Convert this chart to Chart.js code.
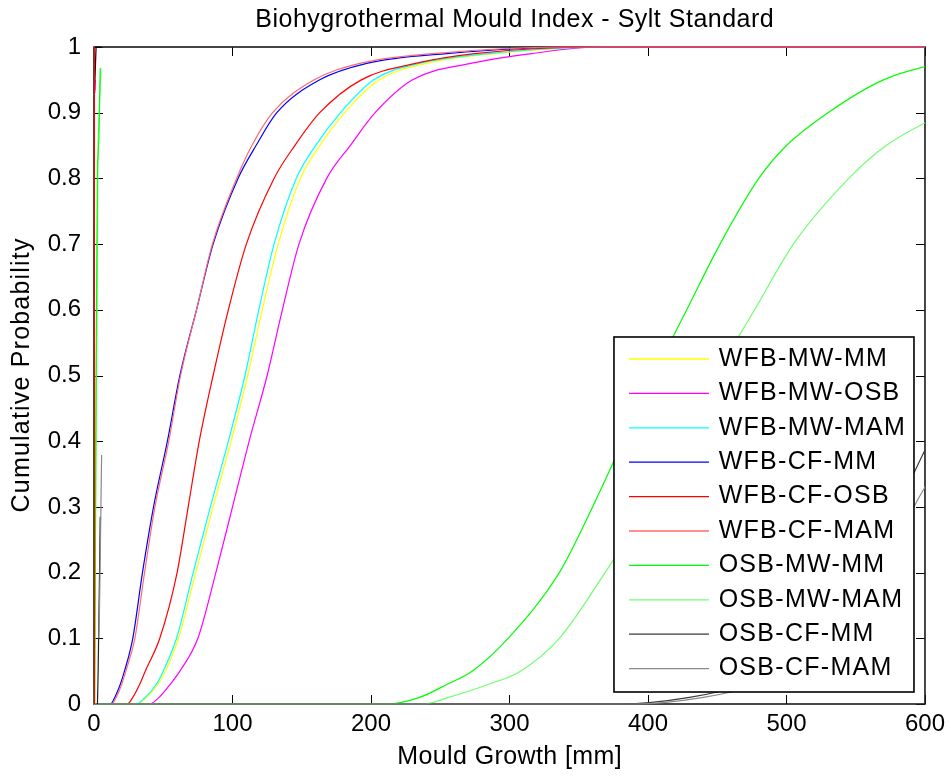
<!DOCTYPE html>
<html>
<head>
<meta charset="utf-8">
<title>Biohygrothermal Mould Index - Sylt Standard</title>
<script src="https://cdn.jsdelivr.net/npm/chart.js@4.4.1/dist/chart.umd.min.js"></script>
<style>
  html, body { margin: 0; padding: 0; background: #fff; }
  #chart { display: block; }
</style>
</head>
<body>
<canvas id="chart" width="951" height="778"></canvas>
<script>
// cumulative probability levels, shared by the main curves
const probLevels = [0, 0, 0.01, 0.03, 0.05, 0.1, 0.2, 0.3, 0.4, 0.5, 0.6, 0.7, 0.8, 0.85, 0.9, 0.95, 0.975, 0.99, 1, 1];

// mould growth [mm] at each probability level
const wfbMwMm  = [0, 31, 38, 46, 51.5, 61, 73.5, 86, 99, 111, 121.5, 133, 149, 163, 181, 206, 240, 290, 375, 700];
const wfbMwOsb = [0, 40, 47, 55, 62, 75, 88, 100, 112, 125, 136, 148, 168, 185, 203, 230, 272, 316, 364, 700];
const wfbMwMam = [0, 30, 37, 45, 50, 59.6, 71.6, 84, 97, 109, 119, 130, 146, 160, 178, 202, 235, 285, 370, 700];
const wfbCfMm  = [0, 12, 15, 19, 22, 28, 35, 43, 53, 62, 74, 86, 104, 117, 132, 163, 197, 255, 350, 700];
const wfbCfOsb = [0, 24, 28, 33, 37, 47.5, 60, 68, 76, 86, 97, 110, 130, 145, 163, 193, 232, 275, 360, 700];
const wfbCfMam = [0, 13, 16, 20, 23, 29.5, 36.5, 44, 54, 62.5, 74, 85.5, 103, 114, 129, 159, 192, 245, 340, 700];
const osbMwMm  = [0, 212, 235, 255, 273, 299, 336, 360, 382, 404, 428, 452, 480, 500, 530, 570, 610, 660, 720, 800];
const osbMwMam = [0, 238, 256, 285, 308, 336, 369, 399, 424, 449, 477, 505, 545, 572, 615, 670, 710, 760, 820, 900];
const osbCfMm  = [0, 380, 430, 470, 490, 520, 555, 580, 603, 625, 650, 680, 710, 730, 760, 800, 840, 880, 950, 1000];
const osbCfMam = [0, 390, 440, 480, 500, 535, 570, 592, 620, 645, 670, 700, 730, 750, 780, 820, 860, 900, 960, 1000];

// short traces hugging x = 0 (not in the legend)
const zeroRedX = [0.3, 0.3], zeroRedY = [0, 1];
const zeroGreenX = [0.5, 1.5, 2.5, 3.5, 4.5], zeroGreenY = [0, 0.5, 0.82, 0.86, 0.968];
const zeroLightGreenX = [0.3, 1.5, 3, 5], zeroLightGreenY = [0, 0.42, 0.86, 0.966];
const zeroDarkX = [2.5, 3, 4, 4.5], zeroDarkY = [0, 0.05, 0.2, 0.285];
const zeroGrayX = [3.5, 4, 5, 5.5], zeroGrayY = [0.1, 0.15, 0.3, 0.379];
const zeroBlackX = [0, 0.5, 1.5, 5], zeroBlackY = [0.935, 0.94, 1, 1];
const zeroMagentaX = [0.6, 0.8], zeroMagentaY = [0.93, 0.95];

const seriesNames = ['WFB-MW-MM', 'WFB-MW-OSB', 'WFB-MW-MAM', 'WFB-CF-MM', 'WFB-CF-OSB',
                     'WFB-CF-MAM', 'OSB-MW-MM', 'OSB-MW-MAM', 'OSB-CF-MM', 'OSB-CF-MAM'];
const seriesGrowth = [wfbMwMm, wfbMwOsb, wfbMwMam, wfbCfMm, wfbCfOsb, wfbCfMam, osbMwMm, osbMwMam, osbCfMm, osbCfMam];
const seriesColors = ['#ffff00', '#ff00ff', '#00ffff', '#0000ff', '#ff0000',
                      '#ff6a6a', '#00ff00', '#70ff70', '#3a3a3a', '#8a8a8a'];

const chartTitle = 'Biohygrothermal Mould Index - Sylt Standard';
const xTitle = 'Mould Growth [mm]';
const yTitle = 'Cumulative Probability';

const FONT = '"Liberation Sans", Arial, Helvetica, sans-serif';

function toPoints(xs, ys) {
    return xs.map((x, i) => ({ x: x, y: ys[i] }));
}

function lineSet(label, xs, ys, color, smooth) {
    return {
        label: label,
        data: toPoints(xs, ys),
        showLine: true,
        borderColor: color,
        backgroundColor: color,
        borderWidth: 1.2,
        pointRadius: 0,
        fill: false,
        cubicInterpolationMode: smooth ? 'monotone' : 'default',
        tension: 0,
        clip: { left: 3, top: 3, right: 0, bottom: 3 }
    };
}

const datasets = [];
seriesNames.forEach((name, i) => {
    datasets.push(lineSet(name, seriesGrowth[i], probLevels, seriesColors[i], true));
});
datasets.push(lineSet('', zeroLightGreenX, zeroLightGreenY, '#70ff70'));
datasets.push(lineSet('', zeroGreenX, zeroGreenY, '#00ff00'));
datasets.push(lineSet('', zeroDarkX, zeroDarkY, '#222222'));
datasets.push(lineSet('', zeroGrayX, zeroGrayY, '#8a8a8a'));
datasets.push(lineSet('', zeroMagentaX, zeroMagentaY, '#ff00ff'));
datasets.push(lineSet('', zeroBlackX, zeroBlackY, '#000000'));
datasets.push(lineSet('', zeroRedX, zeroRedY, '#ff0000'));
// later datasets on top, like the original plot
datasets.forEach((d, i) => { d.order = datasets.length - i; });

function spacedText(ctx, text, x, y, size, spacing) {
    ctx.font = size + 'px ' + FONT;
    ctx.letterSpacing = spacing + 'px';
    ctx.fillText(text, x + spacing / 2, y);
    ctx.letterSpacing = '0px';
}

// box around the axes plus inward ticks on all four sides
const axesBox = {
    id: 'axesBox',
    beforeDatasetsDraw(chart) {
        const ctx = chart.ctx, a = chart.chartArea;
        const xs = chart.scales.x, ys = chart.scales.y;
        const len = 9;
        ctx.save();
        ctx.strokeStyle = '#000';
        ctx.lineWidth = 1;
        ctx.beginPath();
        xs.ticks.forEach(t => {
            const px = Math.round(xs.getPixelForValue(t.value)) + 0.5;
            ctx.moveTo(px, a.bottom); ctx.lineTo(px, a.bottom - len);
            ctx.moveTo(px, a.top); ctx.lineTo(px, a.top + len);
        });
        ys.ticks.forEach(t => {
            const py = Math.round(ys.getPixelForValue(t.value)) + 0.5;
            ctx.moveTo(a.left, py); ctx.lineTo(a.left + len, py);
            ctx.moveTo(a.right, py); ctx.lineTo(a.right - len, py);
        });
        ctx.stroke();
        ctx.lineWidth = 1.6;
        ctx.strokeStyle = '#1a1a1a';
        ctx.strokeRect(a.left, a.top, a.right - a.left, a.bottom - a.top);
        ctx.restore();
    }
};

// boxed legend in the lower right corner, plus title and axis titles
const boxLegend = {
    id: 'boxLegend',
    afterDatasetsDraw(chart) {
        const ctx = chart.ctx, a = chart.chartArea;
        const items = chart.data.datasets.filter(d => d.label);
        const w = 300, h = 355, rowH = 34.4;
        const right = a.right - 11, bottom = a.bottom - 12;
        const left = right - w, top = bottom - h;
        ctx.save();
        ctx.fillStyle = '#fff';
        ctx.fillRect(left, top, w, h);
        ctx.lineWidth = 1.6;
        ctx.strokeStyle = '#000';
        ctx.strokeRect(left, top, w, h);
        ctx.textBaseline = 'middle';
        ctx.textAlign = 'left';
        items.forEach((d, i) => {
            const y = top + 22 + i * rowH;
            ctx.strokeStyle = d.borderColor;
            ctx.lineWidth = 1.3;
            ctx.beginPath();
            ctx.moveTo(left + 15, y);
            ctx.lineTo(left + 95, y);
            ctx.stroke();
            ctx.fillStyle = '#000';
            spacedText(ctx, d.label, left + 104, y, 25, 1.3);
        });

        ctx.fillStyle = '#000';
        ctx.textAlign = 'center';
        const cx = (a.left + a.right) / 2, cy = (a.top + a.bottom) / 2;
        spacedText(ctx, chartTitle, cx + 5, 20, 25, 0.5);
        spacedText(ctx, xTitle, cx, 757, 25, 0.4);
        ctx.translate(22, cy);
        ctx.rotate(-Math.PI / 2);
        spacedText(ctx, yTitle, 0, 0, 25, 1.2);
        ctx.restore();
    }
};

new Chart(document.getElementById('chart'), {
    type: 'scatter',
    data: { datasets: datasets },
    options: {
        responsive: false,
        animation: false,
        events: [],
        layout: { padding: { left: 0, right: 25, top: 47, bottom: 0 } },
        plugins: {
            legend: { display: false },
            tooltip: { enabled: false },
            title: { display: false }
        },
        scales: {
            x: {
                type: 'linear',
                min: 0,
                max: 600,
                grid: { display: false, drawTicks: false },
                border: { display: false },
                ticks: { stepSize: 100, color: '#000', padding: 6, font: { family: FONT, size: 24 } },
                afterFit(scale) { scale.height = 74; }
            },
            y: {
                type: 'linear',
                min: 0,
                max: 1,
                grid: { display: false, drawTicks: false },
                border: { display: false },
                ticks: {
                    stepSize: 0.1,
                    color: '#000',
                    padding: 13,
                    font: { family: FONT, size: 24 },
                    callback: v => String(Math.round(v * 10) / 10)
                },
                afterFit(scale) { scale.width = 94; }
            }
        }
    },
    plugins: [axesBox, boxLegend]
});
</script>
</body>
</html>
